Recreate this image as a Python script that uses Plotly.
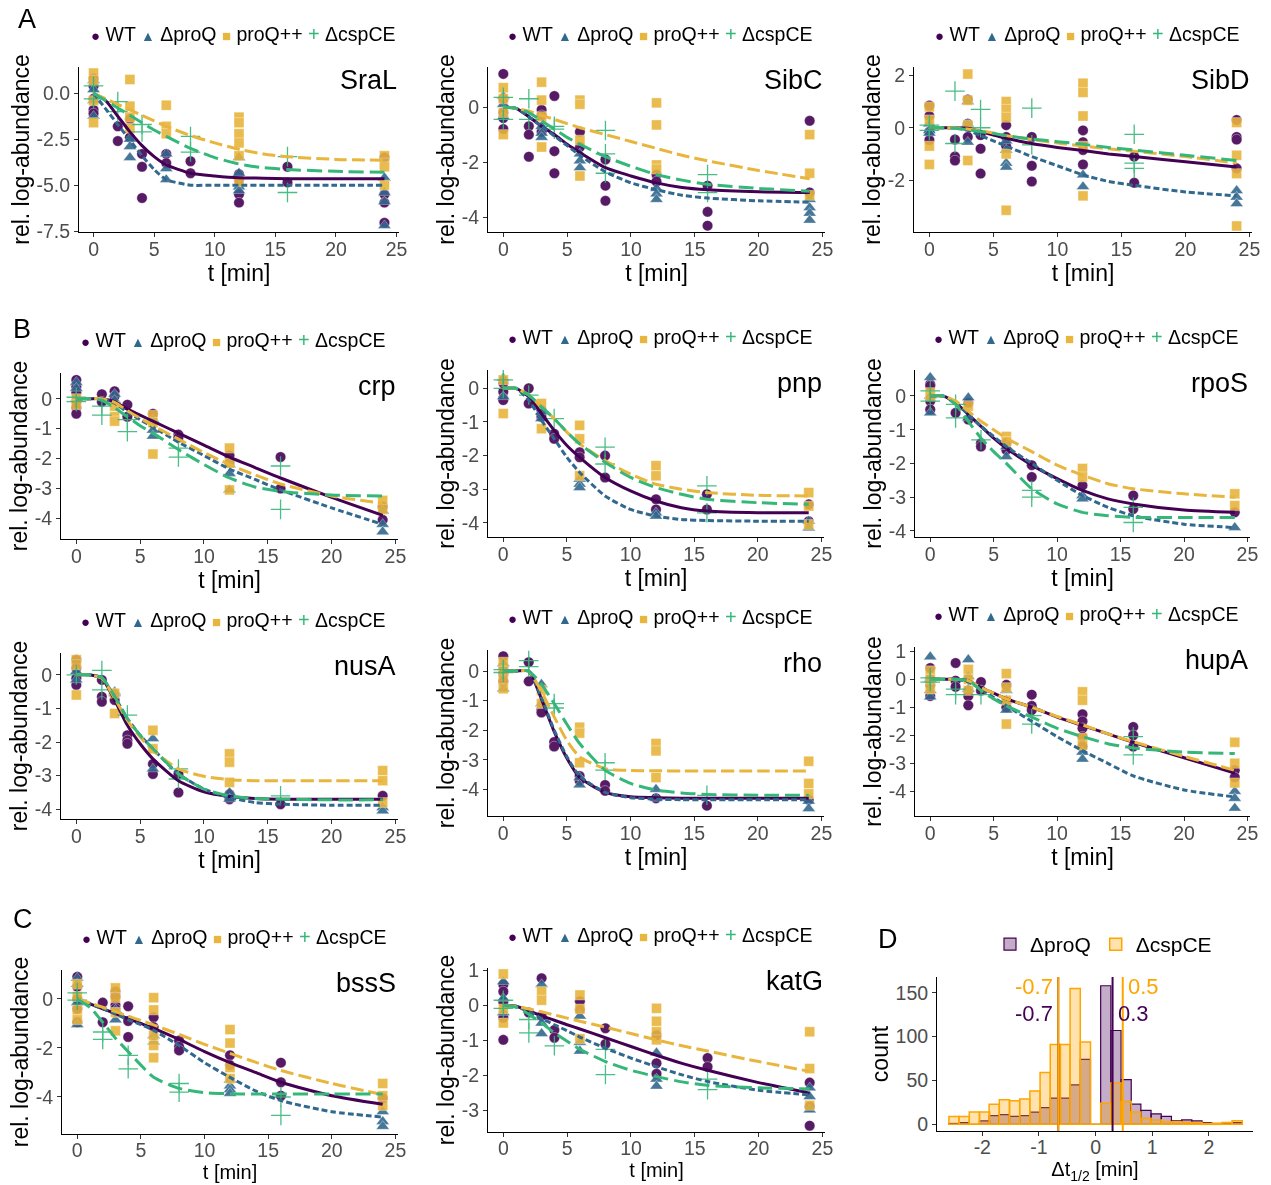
import plotly.graph_objects as go

# ---------------- data ----------------
STRAINS = ["WT", "ΔproQ", "proQ++", "ΔcspCE"]
GENES = ["SraL", "SibC", "SibD", "crp", "pnp", "rpoS", "nusA", "rho", "hupA", "bssS", "katG"]

T_WT = [0, 2, 3, 4, 6, 8, 12, 16, 24]
T_PROQ = [0, 3, 6, 12, 24]
T_PROQPP = [0, 3, 6, 12, 24]
T_CSPCE = [0, 2, 4, 8, 16]
CURVE_T = [0, 1, 2, 3, 4, 5, 6, 8, 10, 12, 14, 16, 20, 24]

# replicate values per sampling time
SRAL_WT = [[0.8, 0.4, -0.3, -0.9, -1.1], [-1.8, -2.6], [-1.4, -2.4], [-3.3, -4.0, -5.7], [-3.3, -3.8], [-3.7, -4.35], [-4.4, -4.7, -5.5, -5.95], [-4.0, -4.85], [-3.5, -5.5, -5.95, -7.05]]
SRAL_PROQ = [[0.7, 0.2, -0.4, -1.25], [-2.5, -2.9, -3.5], [-3.3, -4.1, -4.7], [-3.5, -4.35, -5.1, -5.3], [-4.6, -5.4, -5.9, -7.2]]
SRAL_PROQPP = [[1.1, 0.7, -0.4, -1.6], [0.75, -0.7, -1.3, -1.9], [-0.65, -1.8, -2.2], [-1.3, -1.6, -2.2, -2.7, -3.4, -4.8], [-3.4, -3.8, -4.0, -5.0]]
SRAL_CSPCE = [[0.4, -0.3], [-0.45, -1.0], [-1.7, -2.1], [-2.35, -3.2], [-3.45, -5.4]]

SIBC_WT = [[1.2, 0.3, -0.2, -0.4, -0.8], [-0.7, -1.0, -1.8], [-0.1, -0.3, -0.9], [0.4, -1.6, -2.4], [-0.9, -1.45], [-1.9, -2.85, -3.4], [-2.45, -2.7], [-2.85, -3.8, -4.3], [-0.5, -3.1]]
SIBC_PROQ = [[0.4, 0.1, -0.35], [-0.7, -0.95, -1.1], [-1.7, -1.95, -2.2], [-2.95, -3.15, -3.35], [-3.35, -3.65, -3.85, -4.1]]
SIBC_PROQPP = [[0.7, 0.3, -0.2, -1.0], [0.9, 0.25, -0.35, -1.45], [0.25, 0.1, -1.2, -2.5], [0.15, -0.65, -2.1, -2.25], [-1.0, -2.4, -3.2]]
SIBC_CSPCE = [[0.35, -0.45], [0.3, -0.45], [-0.7, -0.8], [-0.85, -1.7, -2.4], [-2.45, -3.1]]

SIBD_WT = [[0.85, 0.45, -0.15, -0.47], [-0.45, -1.1, -1.25], [1.08, 0.15, -0.35], [-0.28, -0.8, -1.75], [0.1, -0.35, -0.7], [-0.35, -1.45, -2.05], [-0.1, -0.55, -0.85, -1.4], [-1.1, -2.1], [0.3, -0.35, -0.45, -1.55]]
SIBD_PROQ = [[0.15, -0.1, -0.2], [1.0, 0.15, -0.55], [-0.5, -0.85, -1.35, -1.5], [-1.8, -2.25], [-2.4, -2.65, -2.9]]
SIBD_PROQPP = [[0.8, 0.3, -0.7, -1.4], [2.05, 1.05, 0.1, -1.25], [1.0, 0.7, 0.4, -1.0, -3.15], [1.7, 1.35, 0.45, -0.7, -2.6], [0.2, -1.05, -1.75, -3.75]]
SIBD_CSPCE = [[0.1, -0.1], [1.4, -0.6], [0.7, 0.0], [0.75, -0.65], [-0.25, -1.35, -1.55]]

CRP_WT = [[0.63, 0.4, 0.2, -0.1, -0.3, -0.5], [0.15, -0.1], [0.25, 0.08], [-0.2, -0.6], [-0.5, -0.75], [-1.2, -1.3], [-1.9, -2.15], [-1.95, -3.0], [-3.6, -4.05]]
CRP_PROQ = [[0.55, 0.35, 0.0], [0.15, -0.05], [-0.7, -1.05, -1.25], [-2.2, -2.5, -3.05], [-3.75, -4.2, -4.45]]
CRP_PROQPP = [[0.0, -0.2], [-0.25, -0.6, -0.75], [-0.55, -0.8, -1.85], [-1.65, -2.15, -3.05], [-3.4, -3.7]]
CRP_CSPCE = [[0.05, -0.1], [-0.25, -0.55], [-0.7, -1.1], [-1.65, -1.95], [-2.25, -3.7]]

PNP_WT = [[0.15, -0.1, -0.3, -0.35], [0.0, -0.45], [-0.65, -0.85], [-1.35, -1.5], [-1.9, -2.05], [-2.0, -2.65], [-3.3, -3.6], [-3.15, -3.6], [-3.45, -3.95]]
PNP_PROQ = [[0.3, -0.25], [-0.7, -0.9], [-2.7, -2.85, -2.95], [-3.7, -3.8], [-3.95, -4.15]]
PNP_PROQPP = [[0.25, -0.75], [-0.45, -1.2], [-1.1, -1.5, -2.6], [-2.3, -2.6], [-3.1, -3.5, -4.05]]
PNP_CSPCE = [[0.25, 0.0], [-0.2], [-0.9], [-1.75, -2.25], [-2.9, -3.7]]

RPOS_WT = [[0.35, 0.3, -0.15, -0.4], [-0.5], [-0.2, -0.7], [-1.4, -1.5], [-1.4, -1.6], [-2.05, -2.4], [-2.65], [-2.95, -3.35], [-3.45]]
RPOS_PROQ = [[0.55, 0.0, -0.5], [-0.05, -0.65], [-1.5, -1.8], [-2.95, -3.05], [-3.9]]
RPOS_PROQPP = [[0.1, 0.0], [-0.3], [-1.2, -1.35], [-2.15, -2.4], [-2.9, -3.25]]
RPOS_CSPCE = [[0.15, -0.15], [-0.25, -0.65], [-1.3], [-2.8, -3.0], [-3.3, -3.75]]

NUSA_WT = [[0.45, 0.2, -0.1, -0.3], [-0.15, -0.65, -0.8], [-0.6, -0.75], [-1.8, -1.95, -2.05], [-2.65, -2.95], [-2.95, -3.5], [-3.55, -3.7], [-3.85], [-3.6]]
NUSA_PROQ = [[0.1, -0.15], [-0.5, -0.55], [-1.9, -2.8], [-3.5, -3.7], [-3.95, -4.05]]
NUSA_PROQPP = [[0.45, 0.3, -0.6], [-0.55, -1.15], [-1.65, -2.2], [-2.35, -2.6, -3.2], [-2.85, -3.15, -3.8]]
NUSA_CSPCE = [[0.0], [0.13, -0.45], [-1.2], [-2.8, -3.1], [-3.6]]

RHO_WT = [[0.5, 0.15, -0.1, -0.35], [0.3, -0.35], [-1.3, -1.4], [-2.4, -2.55], [-3.55, -3.7], [-3.85, -4.05], [-4.3], [-4.55], [-4.35]]
RHO_PROQ = [[0.25, -0.6], [-0.45, -1.1], [-3.6, -3.85], [-4.0, -4.3], [-4.4, -4.65]]
RHO_PROQPP = [[0.3, 0.0, -0.3, -0.6], [-0.65, -1.1], [-1.9, -2.1, -3.1], [-2.45, -2.7, -3.6], [-3.05, -3.8, -4.15]]
RHO_CSPCE = [[0.05, -0.05], [0.35, 0.15], [-1.1, -1.25], [-3.1, -3.35], [-4.2]]

HUPA_WT = [[0.4, 0.0, -0.2, -0.6], [0.58, -0.05, -0.27], [-0.4, -0.6, -0.93], [-0.1, -0.4], [-0.2, -0.8, -1.0], [-0.55, -0.95, -1.1], [-1.25, -1.5, -1.75, -2.05, -2.4], [-1.7, -2.0, -2.4], [-3.25, -3.5]]
HUPA_PROQ = [[0.8, 0.0, -0.4, -0.63], [0.7, 0.1, -0.35], [-0.4, -0.75, -1.1], [-2.6, -2.85], [-4.0, -4.25, -4.6]]
HUPA_PROQPP = [[0.3, 0.0, -0.35], [0.35, 0.0, -0.4], [0.2, -0.3, -0.75, -1.6], [-0.45, -0.75, -2.1, -2.35], [-2.25, -3.0, -3.7]]
HUPA_CSPCE = [[0.05, -0.1], [-0.35, -0.55], [-0.55], [-1.3, -1.6], [-2.05, -2.7]]

BSSS_WT = [[0.9, 0.5, 0.0, -0.4, -0.95], [-0.15, -0.95], [0.3, 0.1, -0.25, -0.4], [-0.3, -0.9, -1.55], [-0.75, -1.15], [-1.7, -1.95, -2.1], [-2.3, -2.7], [-2.6, -3.4, -3.95], [-4.05]]
BSSS_PROQ = [[0.85, 0.6, -0.15, -1.05], [-0.45, -0.85], [-1.5, -1.75], [-3.3, -3.55, -3.7, -3.85], [-4.6, -5.0, -5.2]]
BSSS_PROQPP = [[0.6, 0.1, -0.45, -0.85], [0.45, 0.05, -0.55, -1.3], [0.05, -0.45, -1.5, -1.9, -2.4], [-1.25, -1.8, -2.8, -3.25], [-3.45, -3.95, -4.35]]
BSSS_CSPCE = [[0.25, -0.05], [-1.35, -1.65], [-2.3, -2.85], [-3.45, -3.8], [-4.0, -4.75]]

KATG_WT = [[0.6, 0.4, 0.1, -0.35, -0.98], [-0.2], [0.78, -0.3], [-0.7, -0.92], [0.12, -0.12], [-0.65, -1.1], [-0.85, -1.65, -1.95], [-1.5, -1.75], [-2.2, -2.88, -3.43]]
KATG_PROQ = [[0.68, 0.2, -0.2], [0.6, -0.5, -0.8], [-0.3, -1.05, -1.3], [-1.35, -2.1, -2.3], [-2.35, -2.6, -2.98]]
KATG_PROQPP = [[0.9, -0.1, -0.5], [0.4, 0.15], [0.3, -0.1, -0.95], [-0.08, -0.45, -0.75, -0.98], [-0.75, -1.8, -2.85]]
KATG_CSPCE = [[0.15, -0.08], [-0.4, -0.78], [-1.15], [-1.25, -1.97], [-2.1, -2.4]]

# fitted curves read at CURVE_T
SRAL_FIT_WT = [0, -0.4, -1.25, -2.1, -2.85, -3.45, -3.9, -4.35, -4.5, -4.6, -4.62, -4.65, -4.65, -4.65]
SRAL_FIT_PROQ = [0, -0.85, -1.7, -2.55, -3.4, -4.15, -4.7, -5.0, -5.0, -5.0, -5.0, -5.0, -5.0, -5.0]
SRAL_FIT_PROQPP = [0, -0.3, -0.6, -0.9, -1.2, -1.5, -1.8, -2.3, -2.7, -3.05, -3.3, -3.45, -3.6, -3.65]
SRAL_FIT_CSPCE = [0, -0.4, -0.8, -1.2, -1.6, -2.0, -2.35, -3.0, -3.5, -3.85, -4.05, -4.15, -4.25, -4.3]

SIBC_FIT_WT = [0, -0.05, -0.35, -0.7, -1.0, -1.35, -1.65, -2.2, -2.5, -2.75, -2.92, -3.0, -3.07, -3.1]
SIBC_FIT_PROQ = [0, -0.05, -0.35, -0.7, -1.05, -1.4, -1.75, -2.35, -2.75, -3.0, -3.2, -3.3, -3.4, -3.45]
SIBC_FIT_PROQPP = [0, -0.05, -0.15, -0.3, -0.45, -0.6, -0.75, -1.0, -1.25, -1.5, -1.75, -1.95, -2.3, -2.6]
SIBC_FIT_CSPCE = [0, -0.05, -0.2, -0.5, -0.8, -1.1, -1.35, -1.8, -2.15, -2.45, -2.65, -2.8, -2.95, -3.05]

SIBD_FIT_WT = [0, 0, 0, -0.02, -0.15, -0.28, -0.4, -0.6, -0.75, -0.87, -1.0, -1.1, -1.3, -1.5]
SIBD_FIT_PROQ = [0, 0, 0, -0.1, -0.3, -0.5, -0.7, -1.1, -1.45, -1.8, -2.05, -2.2, -2.45, -2.6]
SIBD_FIT_PROQPP = [0, 0, 0, -0.05, -0.12, -0.2, -0.3, -0.45, -0.58, -0.7, -0.8, -0.9, -1.1, -1.35]
SIBD_FIT_CSPCE = [0, 0, -0.02, -0.08, -0.15, -0.22, -0.3, -0.43, -0.53, -0.63, -0.75, -0.85, -1.05, -1.25]

CRP_FIT_WT = [0, 0, 0, -0.1, -0.35, -0.55, -0.75, -1.15, -1.55, -1.95, -2.3, -2.65, -3.3, -3.9]
CRP_FIT_PROQ = [0, 0, 0, -0.15, -0.45, -0.7, -0.95, -1.45, -1.9, -2.35, -2.7, -3.05, -3.65, -4.2]
CRP_FIT_PROQPP = [0, 0, 0, -0.12, -0.4, -0.65, -0.9, -1.35, -1.8, -2.2, -2.55, -2.85, -3.25, -3.5]
CRP_FIT_CSPCE = [0, 0, -0.05, -0.3, -0.6, -0.9, -1.15, -1.7, -2.2, -2.65, -2.95, -3.1, -3.22, -3.25]

PNP_FIT_WT = [0, 0, -0.25, -0.75, -1.25, -1.7, -2.05, -2.65, -3.05, -3.35, -3.55, -3.65, -3.7, -3.7]
PNP_FIT_PROQ = [0, 0, -0.35, -0.95, -1.5, -2.05, -2.5, -3.2, -3.6, -3.8, -3.9, -3.93, -3.95, -3.95]
PNP_FIT_PROQPP = [0, 0, -0.2, -0.55, -0.9, -1.3, -1.65, -2.15, -2.55, -2.85, -3.0, -3.1, -3.18, -3.2]
PNP_FIT_CSPCE = [0, 0, -0.2, -0.55, -0.9, -1.3, -1.65, -2.2, -2.65, -2.95, -3.15, -3.3, -3.4, -3.45]

RPOS_FIT_WT = [0, 0, -0.2, -0.55, -0.9, -1.25, -1.55, -2.05, -2.45, -2.8, -3.05, -3.2, -3.38, -3.45]
RPOS_FIT_PROQ = [0, 0, -0.2, -0.55, -0.9, -1.2, -1.5, -2.0, -2.5, -2.95, -3.3, -3.55, -3.8, -3.9]
RPOS_FIT_PROQPP = [0, 0, -0.15, -0.45, -0.75, -1.0, -1.25, -1.65, -2.05, -2.35, -2.6, -2.75, -2.9, -3.0]
RPOS_FIT_CSPCE = [0, 0, -0.25, -0.75, -1.25, -1.65, -2.0, -2.75, -3.2, -3.45, -3.55, -3.6, -3.6, -3.6]

NUSA_FIT_WT = [0, 0, -0.1, -0.75, -1.5, -2.05, -2.5, -3.15, -3.48, -3.62, -3.68, -3.7, -3.7, -3.7]
NUSA_FIT_PROQ = [0, 0, -0.1, -0.65, -1.3, -1.8, -2.2, -2.95, -3.4, -3.65, -3.8, -3.85, -3.88, -3.88]
NUSA_FIT_PROQPP = [0, 0, -0.1, -0.7, -1.35, -1.85, -2.25, -2.8, -3.02, -3.12, -3.15, -3.15, -3.15, -3.15]
NUSA_FIT_CSPCE = [0, 0, -0.08, -0.65, -1.3, -1.8, -2.2, -2.95, -3.4, -3.6, -3.68, -3.7, -3.72, -3.72]

RHO_FIT_WT = [0, 0, 0, -0.95, -2.05, -2.95, -3.6, -4.1, -4.25, -4.28, -4.3, -4.3, -4.3, -4.3]
RHO_FIT_PROQ = [0, 0, 0, -0.9, -2.0, -2.9, -3.55, -4.1, -4.28, -4.33, -4.35, -4.35, -4.35, -4.35]
RHO_FIT_PROQPP = [0, 0, 0, -0.7, -1.55, -2.35, -2.9, -3.3, -3.36, -3.37, -3.38, -3.38, -3.38, -3.38]
RHO_FIT_CSPCE = [0, 0, 0, -0.45, -1.1, -1.8, -2.45, -3.35, -3.8, -4.02, -4.12, -4.17, -4.2, -4.2]

HUPA_FIT_WT = [0, 0, 0, -0.05, -0.3, -0.5, -0.7, -1.0, -1.35, -1.65, -1.95, -2.25, -2.8, -3.35]
HUPA_FIT_PROQ = [0, 0, 0, -0.1, -0.35, -0.65, -0.95, -1.5, -2.05, -2.55, -3.0, -3.45, -3.95, -4.2]
HUPA_FIT_PROQPP = [0, 0, 0, -0.05, -0.3, -0.5, -0.7, -1.0, -1.33, -1.63, -1.95, -2.23, -2.75, -3.25]
HUPA_FIT_CSPCE = [0, 0, 0, -0.05, -0.4, -0.7, -0.95, -1.35, -1.75, -2.05, -2.3, -2.45, -2.6, -2.65]

BSSS_FIT_WT = [0, -0.2, -0.4, -0.6, -0.8, -1.0, -1.2, -1.65, -2.15, -2.6, -3.0, -3.4, -3.95, -4.3]
BSSS_FIT_PROQ = [0, -0.2, -0.4, -0.62, -0.85, -1.05, -1.28, -1.9, -2.6, -3.2, -3.75, -4.15, -4.6, -4.82]
BSSS_FIT_PROQPP = [0, -0.17, -0.34, -0.52, -0.7, -0.88, -1.06, -1.45, -1.85, -2.22, -2.58, -2.92, -3.45, -3.9]
BSSS_FIT_CSPCE = [0, -0.35, -0.95, -1.6, -2.15, -2.7, -3.2, -3.65, -3.82, -3.87, -3.88, -3.88, -3.88, -3.88]

KATG_FIT_WT = [0, -0.02, -0.15, -0.3, -0.42, -0.55, -0.67, -0.92, -1.17, -1.42, -1.65, -1.85, -2.2, -2.5]
KATG_FIT_PROQ = [0, -0.02, -0.18, -0.37, -0.55, -0.72, -0.9, -1.22, -1.5, -1.75, -1.98, -2.17, -2.42, -2.55]
KATG_FIT_PROQPP = [0, -0.02, -0.1, -0.18, -0.27, -0.36, -0.45, -0.62, -0.8, -0.98, -1.15, -1.3, -1.6, -1.88]
KATG_FIT_CSPCE = [0, -0.05, -0.25, -0.5, -0.78, -1.02, -1.25, -1.6, -1.85, -2.03, -2.18, -2.28, -2.35, -2.38]

# y tick values per panel
YTICKS = [[0, -2.5, -5, -7.5], [0, -2, -4], [2, 0, -2], [0, -1, -2, -3, -4], [0, -1, -2, -3, -4],
          [0, -1, -2, -3, -4], [0, -1, -2, -3, -4], [0, -1, -2, -3, -4], [1, 0, -1, -2, -3, -4],
          [0, -2, -4], [1, 0, -1, -2, -3]]
XTICKS = [0, 5, 10, 15, 20, 25]

# panel D histogram
HIST_BINS = [-2.5, -2.32, -2.14, -1.96, -1.79, -1.61, -1.43, -1.25, -1.07, -0.89, -0.71, -0.54, -0.36, -0.18, 0.0,
             0.18, 0.36, 0.54, 0.71, 0.89, 1.07, 1.25, 1.43, 1.61, 1.79, 1.96, 2.14, 2.32, 2.5]
HIST_PROQ = [1, 2, 0, 4, 10, 11, 9, 10, 14, 19, 30, 30, 45, 74, 0, 158, 107, 51, 23, 16, 12, 9, 4, 5, 4, 2, 1, 1, 2]
HIST_CSPCE = [9, 9, 14, 14, 23, 28, 27, 29, 38, 59, 91, 91, 155, 94, 0, 24, 47, 26, 14, 7, 5, 3, 3, 2, 2, 1, 1, 2, 4]
MEDIAN_NEG = [-0.66, -0.66]   # ΔproQ, ΔcspCE
MEDIAN_POS = [0.30, 0.48]     # ΔproQ, ΔcspCE
HIST_XTICKS = [-2, -1, 0, 1, 2]
HIST_YTICKS = [0, 50, 100, 150]

POINTS = [
    [SRAL_WT, SRAL_PROQ, SRAL_PROQPP, SRAL_CSPCE],
    [SIBC_WT, SIBC_PROQ, SIBC_PROQPP, SIBC_CSPCE],
    [SIBD_WT, SIBD_PROQ, SIBD_PROQPP, SIBD_CSPCE],
    [CRP_WT, CRP_PROQ, CRP_PROQPP, CRP_CSPCE],
    [PNP_WT, PNP_PROQ, PNP_PROQPP, PNP_CSPCE],
    [RPOS_WT, RPOS_PROQ, RPOS_PROQPP, RPOS_CSPCE],
    [NUSA_WT, NUSA_PROQ, NUSA_PROQPP, NUSA_CSPCE],
    [RHO_WT, RHO_PROQ, RHO_PROQPP, RHO_CSPCE],
    [HUPA_WT, HUPA_PROQ, HUPA_PROQPP, HUPA_CSPCE],
    [BSSS_WT, BSSS_PROQ, BSSS_PROQPP, BSSS_CSPCE],
    [KATG_WT, KATG_PROQ, KATG_PROQPP, KATG_CSPCE],
]
FITS = [
    [SRAL_FIT_WT, SRAL_FIT_PROQ, SRAL_FIT_PROQPP, SRAL_FIT_CSPCE],
    [SIBC_FIT_WT, SIBC_FIT_PROQ, SIBC_FIT_PROQPP, SIBC_FIT_CSPCE],
    [SIBD_FIT_WT, SIBD_FIT_PROQ, SIBD_FIT_PROQPP, SIBD_FIT_CSPCE],
    [CRP_FIT_WT, CRP_FIT_PROQ, CRP_FIT_PROQPP, CRP_FIT_CSPCE],
    [PNP_FIT_WT, PNP_FIT_PROQ, PNP_FIT_PROQPP, PNP_FIT_CSPCE],
    [RPOS_FIT_WT, RPOS_FIT_PROQ, RPOS_FIT_PROQPP, RPOS_FIT_CSPCE],
    [NUSA_FIT_WT, NUSA_FIT_PROQ, NUSA_FIT_PROQPP, NUSA_FIT_CSPCE],
    [RHO_FIT_WT, RHO_FIT_PROQ, RHO_FIT_PROQPP, RHO_FIT_CSPCE],
    [HUPA_FIT_WT, HUPA_FIT_PROQ, HUPA_FIT_PROQPP, HUPA_FIT_CSPCE],
    [BSSS_FIT_WT, BSSS_FIT_PROQ, BSSS_FIT_PROQPP, BSSS_FIT_CSPCE],
    [KATG_FIT_WT, KATG_FIT_PROQ, KATG_FIT_PROQPP, KATG_FIT_CSPCE],
]
STRAIN_TIMES = [T_WT, T_PROQ, T_PROQPP, T_CSPCE]

# ---------------- style / layout ----------------
W, H = 1271, 1185
FONT = "Liberation Sans, Arial, Helvetica, sans-serif"
COLORS = ["#440154", "#31688E", "#E8B53D", "#35B779"]
SYMBOLS = ["circle", "triangle-up", "square", "cross-thin"]
MSIZES = [10.5, 11.5, 10, 14]
DASHES = ["solid", "6px,3px", "13px,5px", "15px,6px"]
LEG_GLYPHS = ["●", "▲", "■", "+"]
LEG_GSIZE = [15, 14, 15, 20]
TICK_FS, TITLE_FS, GENE_FS, LETTER_FS = 19.5, 23, 27, 27
BOTTOM_TITLE_FS = 20

# plot-area boxes in px: (left, right, top, bottom)
BOXES = [
    (79, 399, 67, 232), (488, 825, 67, 232), (914, 1252, 67, 232),
    (61, 398, 373, 539), (488, 824, 370, 537), (915, 1250, 370, 537),
    (61, 398, 653, 819), (488, 824, 650, 816), (915, 1250, 647, 816),
    (62, 398, 970, 1134), (488, 825, 968, 1132), (937, 1253, 977, 1131),
]
BOTTOM_ROW = {9, 10, 11}
YRANGES = [(-7.55, 1.43), (-4.53, 1.45), (-3.98, 2.32), (-4.69, 0.86), (-4.42, 0.545), (-4.18, 0.77),
           (-4.29, 0.65), (-4.9, 0.71), (-4.88, 1.15), (-5.51, 1.18), (-3.61, 1.07)]
XRANGE = (-1.2, 25.2)


def fmt(v, dec):
    return f"{v:.{dec}f}"


fig = go.Figure()
layout = dict(
    width=W, height=H, margin=dict(l=0, r=0, t=0, b=0, pad=0, autoexpand=False),
    paper_bgcolor="white", plot_bgcolor="white",
    font=dict(family=FONT, color="black"),
    showlegend=True, barmode="overlay",
)
annotations = []
shapes = []

axis_common = dict(
    showline=True, linecolor="black", linewidth=1, ticks="outside", ticklen=4,
    tickcolor="#333333", tickwidth=1, tickfont=dict(size=TICK_FS, color="#4D4D4D", family=FONT),
    showgrid=False, zeroline=False, automargin=False,
)

for i, gene in enumerate(GENES):
    sfx = "" if i == 0 else str(i + 1)
    xa, ya = "x" + sfx, "y" + sfx
    left, right, top, bottom = BOXES[i]
    # points
    for s in range(4):
        xs, ys = [], []
        for t, reps in zip(STRAIN_TIMES[s], POINTS[i][s]):
            for v in reps:
                xs.append(t)
                ys.append(v)
        if SYMBOLS[s] == "cross-thin":
            marker = dict(symbol="cross-thin", size=MSIZES[s], color=COLORS[s],
                          line=dict(color=COLORS[s], width=1.3))
        else:
            marker = dict(symbol=SYMBOLS[s], size=MSIZES[s], color=COLORS[s],
                          line=dict(color="rgba(255,255,255,0.6)", width=0.6))
        fig.add_trace(go.Scatter(x=xs, y=ys, mode="markers", marker=marker, opacity=0.9,
                                 xaxis=xa, yaxis=ya, showlegend=False, name=STRAINS[s]))
    # fitted curves
    for s in range(4):
        fig.add_trace(go.Scatter(x=CURVE_T, y=FITS[i][s], mode="lines",
                                 line=dict(color=COLORS[s], width=3, dash=DASHES[s], shape="spline", smoothing=0.6),
                                 xaxis=xa, yaxis=ya, showlegend=False, name=STRAINS[s]))
    yt = YTICKS[i]
    dec = 1 if any(abs(v - round(v)) > 1e-9 for v in yt) else 0
    bottom_row = i in BOTTOM_ROW
    layout["xaxis" + sfx] = dict(
        axis_common, domain=[left / W, right / W], anchor=ya, range=list(XRANGE),
        tickvals=XTICKS, ticktext=[str(v) for v in XTICKS], ticklabelstandoff=-5 if bottom_row else -4,
        title=dict(text="t [min]", font=dict(size=BOTTOM_TITLE_FS if bottom_row else TITLE_FS,
                                             family=FONT, color="black"),
                   standoff=0 if bottom_row else 1),
    )
    layout["yaxis" + sfx] = dict(
        axis_common, domain=[1 - bottom / H, 1 - top / H], anchor=xa, range=list(YRANGES[i]),
        tickvals=yt, ticktext=[fmt(v, dec) for v in yt],
        title=dict(text="rel. log-abundance", font=dict(size=TITLE_FS, family=FONT, color="black"), standoff=0),
    )
    # gene label
    annotations.append(dict(text=gene, xref=xa + " domain", yref=ya + " domain", x=1.0, y=1.0,
                            xanchor="right", yanchor="top", yshift=4, showarrow=False,
                            font=dict(size=GENE_FS, family=FONT, color="black")))
    # legend row
    parts = []
    for s in range(4):
        parts.append(f"<span style='color:{COLORS[s]};font-size:{LEG_GSIZE[s]}px'>{LEG_GLYPHS[s]}</span> {STRAINS[s]}")
    annotations.append(dict(text=" ".join(parts), xref="paper", yref="paper",
                            x=((left + right) / 2 + 4) / W, y=1 - (top - 33) / H,
                            xanchor="center", yanchor="middle", showarrow=False,
                            font=dict(size=19.5, family=FONT, color="black")))

# ---------------- histogram panel D ----------------
left, right, top, bottom = BOXES[11]
bw = HIST_BINS[1] - HIST_BINS[0]
fig.add_trace(go.Bar(x=HIST_BINS, y=HIST_PROQ, width=bw, name="ΔproQ",
                     marker=dict(color="rgba(68,1,84,0.32)", line=dict(color="#440154", width=1.2)),
                     xaxis="x12", yaxis="y12"))
fig.add_trace(go.Bar(x=HIST_BINS, y=HIST_CSPCE, width=bw, name="ΔcspCE",
                     marker=dict(color="rgba(255,165,0,0.32)", line=dict(color="#FFA500", width=1.5)),
                     xaxis="x12", yaxis="y12"))
layout["xaxis12"] = dict(
    axis_common, domain=[left / W, right / W], anchor="y12", range=[-2.8, 2.78],
    tickvals=HIST_XTICKS, ticktext=[str(v) for v in HIST_XTICKS], ticklabelstandoff=-5,
    title=dict(text="Δt<sub>1/2</sub> [min]", font=dict(size=BOTTOM_TITLE_FS, family=FONT, color="black"), standoff=0),
)
layout["yaxis12"] = dict(
    axis_common, domain=[1 - bottom / H, 1 - top / H], anchor="x12", range=[-7.6, 168],
    tickvals=HIST_YTICKS, ticktext=[str(v) for v in HIST_YTICKS],
    title=dict(text="count", font=dict(size=TITLE_FS, family=FONT, color="black"), standoff=0),
)
MED_COLORS = ["#440154", "#FFA500"]
LABEL_Y = [126, 157]
for k in range(2):
    for v in (MEDIAN_NEG[k], MEDIAN_POS[k]):
        shapes.append(dict(type="line", xref="x12", yref="y12 domain", x0=v, x1=v, y0=0, y1=1,
                           line=dict(color=MED_COLORS[k], width=2)))
        annotations.append(dict(text=fmt(v, 1), xref="x12", yref="y12", x=v, y=LABEL_Y[k],
                                xanchor="right" if v < 0 else "left", xshift=-3 if v < 0 else 3,
                                yanchor="middle", showarrow=False,
                                font=dict(size=22, family=FONT, color=MED_COLORS[k])))
layout["legend"] = dict(orientation="h", x=990 / W, y=1 - 924 / H, xanchor="left", yanchor="top",
                        font=dict(size=21, family=FONT, color="black"), bgcolor="rgba(0,0,0,0)",
                        traceorder="normal", itemwidth=30)

# panel letters
for letter, px, py in [("A", 16, 19), ("B", 11, 329), ("C", 11, 919), ("D", 876, 939)]:
    annotations.append(dict(text=letter, xref="paper", yref="paper", x=px / W, y=1 - py / H,
                            xanchor="left", yanchor="middle", showarrow=False,
                            font=dict(size=LETTER_FS, family=FONT, color="black")))

layout["annotations"] = annotations
layout["shapes"] = shapes
fig.update_layout(**layout)
fig.write_html(
    "out.html",
    config={"displayModeBar": False, "responsive": False},
    post_script=("document.documentElement.style.margin='0';document.body.style.margin='0';"
                 "document.documentElement.style.overflow='hidden';document.body.style.overflow='hidden';"),
)
